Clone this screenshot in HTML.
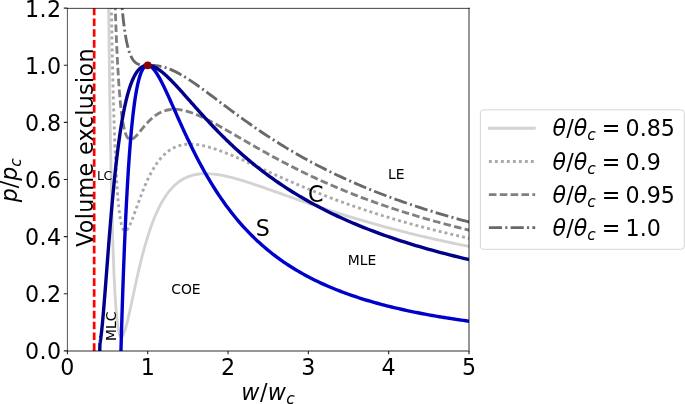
<!DOCTYPE html>
<html><head><meta charset="utf-8"><title>p-w phase diagram</title>
<style>
html,body{margin:0;padding:0;background:#fff;}
body{width:685px;height:404px;overflow:hidden;}
svg{display:block;font-family:"DejaVu Sans", "Liberation Sans", sans-serif;}
.tk{font-size:22.2px;fill:#000;}
.it{font-style:italic;}
.sm{font-size:13.9px;fill:#000;}
.lg{font-size:22.2px;fill:#000;}
</style></head><body>
<svg width="685" height="404" viewBox="0 0 685 404">
<rect width="685" height="404" fill="#fff"/>
<defs><clipPath id="ax"><rect x="67.4" y="8.17" width="401.60" height="342.73"/></clipPath></defs>
<g clip-path="url(#ax)" fill="none" stroke-linejoin="round">
<path d="M107.81,-77.51 L108.16,-39.74 L108.51,-5.18 L108.86,26.43 L109.21,55.37 L109.57,81.86 L109.92,106.11 L110.27,128.33 L110.62,148.66 L110.98,167.28 L111.33,184.32 L111.68,199.91 L112.03,214.16 L112.38,227.19 L112.74,239.08 L113.09,249.94 L113.44,259.83 L113.79,268.83 L114.14,277.01 L114.50,284.44 L114.85,291.16 L115.20,297.24 L115.55,302.71 L115.90,307.63 L116.26,312.04 L116.61,315.97 L116.96,319.47 L117.31,322.55 L117.66,325.25 L118.02,327.61 L118.37,329.64 L118.72,331.37 L119.07,332.82 L119.42,334.01 L119.78,334.96 L120.13,335.69 L120.48,336.22 L120.83,336.55 L121.18,336.71 L121.54,336.70 L121.89,336.55 L122.24,336.25 L122.59,335.83 L122.95,335.29 L123.30,334.64 L123.65,333.89 L124.00,333.04 L124.35,332.11 L124.71,331.10 L125.06,330.02 L125.41,328.88 L125.76,327.67 L126.11,326.41 L126.47,325.10 L126.82,323.75 L127.17,322.35 L127.52,320.92 L127.87,319.46 L128.23,317.96 L128.58,316.44 L128.93,314.90 L129.28,313.34 L129.63,311.75 L129.99,310.16 L130.34,308.55 L130.69,306.93 L131.04,305.30 L131.39,303.67 L131.75,302.03 L132.10,300.38 L132.45,298.74 L132.80,297.09 L133.15,295.45 L133.51,293.81 L133.86,292.17 L134.21,290.54 L134.56,288.91 L134.92,287.29 L135.27,285.67 L135.62,284.07 L135.97,282.47 L136.32,280.88 L136.68,279.30 L137.03,277.73 L137.38,276.18 L137.73,274.63 L138.08,273.10 L138.44,271.58 L138.79,270.07 L139.14,268.58 L139.49,267.09 L139.84,265.63 L140.20,264.17 L140.55,262.73 L140.90,261.31 L141.25,259.90 L141.60,258.50 L141.96,257.12 L142.31,255.75 L142.66,254.40 L143.01,253.07 L143.36,251.75 L143.72,250.44 L144.07,249.15 L144.42,247.87 L144.77,246.61 L145.12,245.37 L145.48,244.14 L145.83,242.92 L146.18,241.72 L146.53,240.54 L146.89,239.37 L147.24,238.22 L147.59,237.08 L147.94,235.95 L148.29,234.84 L148.65,233.75 L149.00,232.67 L149.35,231.60 L149.70,230.55 L150.05,229.51 L150.41,228.49 L150.76,227.48 L151.11,226.48 L151.46,225.50 L151.81,224.53 L152.17,223.58 L152.52,222.64 L152.87,221.71 L153.22,220.80 L153.57,219.90 L153.93,219.01 L154.28,218.14 L154.63,217.27 L154.98,216.42 L155.33,215.59 L155.69,214.76 L156.04,213.95 L156.39,213.15 L156.74,212.37 L157.09,211.59 L157.45,210.83 L157.80,210.07 L158.15,209.33 L158.50,208.60 L158.86,207.88 L159.21,207.18 L159.56,206.48 L159.91,205.80 L160.26,205.12 L160.62,204.46 L160.97,203.80 L161.32,203.16 L161.67,202.53 L162.02,201.91 L162.38,201.29 L162.73,200.69 L163.08,200.10 L163.43,199.52 L163.78,198.94 L166.38,194.99 L168.98,191.51 L171.58,188.45 L174.18,185.78 L176.78,183.47 L179.38,181.47 L181.97,179.76 L184.57,178.31 L187.17,177.11 L189.77,176.11 L192.37,175.32 L194.97,174.69 L197.57,174.23 L200.16,173.92 L202.76,173.73 L205.36,173.67 L207.96,173.71 L210.56,173.84 L213.16,174.07 L215.76,174.38 L218.35,174.75 L220.95,175.19 L223.55,175.69 L226.15,176.25 L228.75,176.85 L231.35,177.49 L233.95,178.17 L236.54,178.88 L239.14,179.63 L241.74,180.40 L244.34,181.19 L246.94,182.01 L249.54,182.84 L252.14,183.69 L254.73,184.56 L257.33,185.44 L259.93,186.33 L262.53,187.22 L265.13,188.13 L267.73,189.04 L270.33,189.95 L272.92,190.87 L275.52,191.79 L278.12,192.71 L280.72,193.64 L283.32,194.56 L285.92,195.48 L288.52,196.40 L291.11,197.32 L293.71,198.24 L296.31,199.15 L298.91,200.06 L301.51,200.97 L304.11,201.87 L306.71,202.77 L309.30,203.66 L311.90,204.55 L314.50,205.43 L317.10,206.31 L319.70,207.18 L322.30,208.04 L324.90,208.90 L327.50,209.75 L330.09,210.60 L332.69,211.44 L335.29,212.27 L337.89,213.10 L340.49,213.92 L343.09,214.73 L345.69,215.54 L348.28,216.34 L350.88,217.13 L353.48,217.92 L356.08,218.69 L358.68,219.47 L361.28,220.23 L363.88,220.99 L366.47,221.74 L369.07,222.49 L371.67,223.23 L374.27,223.96 L376.87,224.68 L379.47,225.40 L382.07,226.11 L384.66,226.82 L387.26,227.52 L389.86,228.21 L392.46,228.89 L395.06,229.57 L397.66,230.24 L400.26,230.91 L402.85,231.57 L405.45,232.23 L408.05,232.87 L410.65,233.51 L413.25,234.15 L415.85,234.78 L418.45,235.40 L421.04,236.02 L423.64,236.63 L426.24,237.24 L428.84,237.84 L431.44,238.44 L434.04,239.03 L436.64,239.61 L439.23,240.19 L441.83,240.76 L444.43,241.33 L447.03,241.89 L449.63,242.45 L452.23,243.00 L454.83,243.55 L457.42,244.09 L460.02,244.63 L462.62,245.16 L465.22,245.69 L467.82,246.21 L470.42,246.73 L473.02,247.24" stroke="#d3d3d3" stroke-width="2.85"  stroke-dashoffset="0" stroke-linecap="square"/>
<path d="M110.06,-77.51 L110.39,-52.87 L110.73,-30.07 L111.07,-8.96 L111.41,10.58 L111.75,28.68 L112.08,45.43 L112.42,60.95 L112.76,75.32 L113.10,88.63 L113.44,100.94 L113.77,112.35 L114.11,122.90 L114.45,132.66 L114.79,141.68 L115.13,150.02 L115.46,157.72 L115.80,164.83 L116.14,171.39 L116.48,177.43 L116.82,182.99 L117.15,188.10 L117.49,192.79 L117.83,197.10 L118.17,201.03 L118.50,204.63 L118.84,207.91 L119.18,210.90 L119.52,213.60 L119.86,216.05 L120.19,218.26 L120.53,220.24 L120.87,222.00 L121.21,223.57 L121.55,224.96 L121.88,226.17 L122.22,227.22 L122.56,228.12 L122.90,228.88 L123.24,229.51 L123.57,230.02 L123.91,230.41 L124.25,230.70 L124.59,230.88 L124.92,230.98 L125.26,230.98 L125.60,230.91 L125.94,230.76 L126.28,230.54 L126.61,230.25 L126.95,229.91 L127.29,229.51 L127.63,229.06 L127.97,228.56 L128.30,228.01 L128.64,227.43 L128.98,226.80 L129.32,226.15 L129.66,225.46 L129.99,224.74 L130.33,223.99 L130.67,223.22 L131.01,222.42 L131.35,221.61 L131.68,220.78 L132.02,219.93 L132.36,219.07 L132.70,218.19 L133.03,217.30 L133.37,216.41 L133.71,215.50 L134.05,214.58 L134.39,213.66 L134.72,212.74 L135.06,211.81 L135.40,210.87 L135.74,209.94 L136.08,209.00 L136.41,208.06 L136.75,207.12 L137.09,206.19 L137.43,205.25 L137.77,204.32 L138.10,203.39 L138.44,202.46 L138.78,201.54 L139.12,200.62 L139.45,199.70 L139.79,198.79 L140.13,197.89 L140.47,196.99 L140.81,196.10 L141.14,195.21 L141.48,194.33 L141.82,193.46 L142.16,192.59 L142.50,191.74 L142.83,190.89 L143.17,190.04 L143.51,189.21 L143.85,188.38 L144.19,187.57 L144.52,186.76 L144.86,185.96 L145.20,185.16 L145.54,184.38 L145.88,183.61 L146.21,182.84 L146.55,182.08 L146.89,181.34 L147.23,180.60 L147.56,179.87 L147.90,179.15 L148.24,178.44 L148.58,177.73 L148.92,177.04 L149.25,176.36 L149.59,175.68 L149.93,175.02 L150.27,174.36 L150.61,173.71 L150.94,173.07 L151.28,172.44 L151.62,171.82 L151.96,171.21 L152.30,170.61 L152.63,170.01 L152.97,169.43 L153.31,168.85 L153.65,168.28 L153.98,167.73 L154.32,167.18 L154.66,166.63 L155.00,166.10 L155.34,165.58 L155.67,165.06 L156.01,164.55 L156.35,164.05 L156.69,163.56 L157.03,163.08 L157.36,162.60 L157.70,162.13 L158.04,161.67 L158.38,161.22 L158.72,160.78 L159.05,160.34 L159.39,159.91 L159.73,159.49 L160.07,159.08 L160.40,158.67 L160.74,158.27 L161.08,157.88 L161.42,157.50 L161.76,157.12 L162.09,156.75 L162.43,156.39 L162.77,156.03 L163.11,155.68 L163.45,155.34 L163.78,155.00 L166.38,152.63 L168.98,150.62 L171.58,148.94 L174.18,147.55 L176.78,146.44 L179.38,145.57 L181.97,144.92 L184.57,144.48 L187.17,144.22 L189.77,144.12 L192.37,144.17 L194.97,144.35 L197.57,144.65 L200.16,145.06 L202.76,145.56 L205.36,146.16 L207.96,146.83 L210.56,147.56 L213.16,148.36 L215.76,149.22 L218.35,150.12 L220.95,151.07 L223.55,152.05 L226.15,153.07 L228.75,154.12 L231.35,155.19 L233.95,156.29 L236.54,157.40 L239.14,158.53 L241.74,159.67 L244.34,160.82 L246.94,161.99 L249.54,163.16 L252.14,164.33 L254.73,165.51 L257.33,166.69 L259.93,167.87 L262.53,169.05 L265.13,170.23 L267.73,171.41 L270.33,172.59 L272.92,173.76 L275.52,174.92 L278.12,176.08 L280.72,177.24 L283.32,178.39 L285.92,179.53 L288.52,180.66 L291.11,181.79 L293.71,182.91 L296.31,184.02 L298.91,185.12 L301.51,186.22 L304.11,187.30 L306.71,188.38 L309.30,189.44 L311.90,190.50 L314.50,191.55 L317.10,192.59 L319.70,193.61 L322.30,194.63 L324.90,195.64 L327.50,196.64 L330.09,197.63 L332.69,198.61 L335.29,199.59 L337.89,200.55 L340.49,201.50 L343.09,202.44 L345.69,203.38 L348.28,204.30 L350.88,205.21 L353.48,206.12 L356.08,207.02 L358.68,207.90 L361.28,208.78 L363.88,209.65 L366.47,210.51 L369.07,211.36 L371.67,212.20 L374.27,213.04 L376.87,213.86 L379.47,214.68 L382.07,215.49 L384.66,216.29 L387.26,217.08 L389.86,217.86 L392.46,218.64 L395.06,219.41 L397.66,220.17 L400.26,220.92 L402.85,221.66 L405.45,222.40 L408.05,223.13 L410.65,223.85 L413.25,224.56 L415.85,225.27 L418.45,225.97 L421.04,226.66 L423.64,227.35 L426.24,228.03 L428.84,228.70 L431.44,229.37 L434.04,230.03 L436.64,230.68 L439.23,231.32 L441.83,231.96 L444.43,232.60 L447.03,233.22 L449.63,233.85 L452.23,234.46 L454.83,235.07 L457.42,235.67 L460.02,236.27 L462.62,236.86 L465.22,237.45 L467.82,238.03 L470.42,238.60 L473.02,239.17" stroke="#a9a9a9" stroke-width="2.85" stroke-dasharray="2.9 3.1" stroke-dashoffset="0" />
<path d="M113.00,-77.51 L113.32,-62.88 L113.64,-49.17 L113.96,-36.33 L114.28,-24.30 L114.60,-13.02 L114.92,-2.46 L115.24,7.43 L115.56,16.71 L115.88,25.40 L116.20,33.54 L116.52,41.17 L116.83,48.32 L117.15,55.01 L117.47,61.28 L117.79,67.15 L118.11,72.65 L118.43,77.79 L118.75,82.60 L119.07,87.10 L119.39,91.31 L119.71,95.23 L120.03,98.90 L120.35,102.33 L120.67,105.52 L120.99,108.49 L121.31,111.26 L121.63,113.84 L121.94,116.23 L122.26,118.46 L122.58,120.52 L122.90,122.43 L123.22,124.20 L123.54,125.83 L123.86,127.33 L124.18,128.72 L124.50,129.99 L124.82,131.15 L125.14,132.21 L125.46,133.18 L125.78,134.06 L126.10,134.85 L126.42,135.56 L126.74,136.20 L127.05,136.77 L127.37,137.28 L127.69,137.72 L128.01,138.10 L128.33,138.42 L128.65,138.70 L128.97,138.92 L129.29,139.10 L129.61,139.24 L129.93,139.33 L130.25,139.39 L130.57,139.41 L130.89,139.40 L131.21,139.35 L131.53,139.28 L131.85,139.18 L132.16,139.06 L132.48,138.91 L132.80,138.73 L133.12,138.54 L133.44,138.33 L133.76,138.10 L134.08,137.85 L134.40,137.59 L134.72,137.31 L135.04,137.02 L135.36,136.72 L135.68,136.41 L136.00,136.09 L136.32,135.75 L136.64,135.41 L136.96,135.06 L137.28,134.71 L137.59,134.35 L137.91,133.98 L138.23,133.61 L138.55,133.23 L138.87,132.85 L139.19,132.47 L139.51,132.09 L139.83,131.70 L140.15,131.31 L140.47,130.92 L140.79,130.53 L141.11,130.14 L141.43,129.75 L141.75,129.35 L142.07,128.96 L142.39,128.57 L142.70,128.19 L143.02,127.80 L143.34,127.41 L143.66,127.03 L143.98,126.65 L144.30,126.27 L144.62,125.89 L144.94,125.52 L145.26,125.15 L145.58,124.78 L145.90,124.42 L146.22,124.06 L146.54,123.70 L146.86,123.35 L147.18,123.00 L147.50,122.65 L147.81,122.31 L148.13,121.97 L148.45,121.64 L148.77,121.31 L149.09,120.99 L149.41,120.67 L149.73,120.35 L150.05,120.04 L150.37,119.73 L150.69,119.43 L151.01,119.13 L151.33,118.84 L151.65,118.55 L151.97,118.27 L152.29,117.99 L152.61,117.72 L152.92,117.45 L153.24,117.18 L153.56,116.92 L153.88,116.67 L154.20,116.42 L154.52,116.17 L154.84,115.93 L155.16,115.69 L155.48,115.46 L155.80,115.24 L156.12,115.02 L156.44,114.80 L156.76,114.59 L157.08,114.38 L157.40,114.18 L157.72,113.98 L158.04,113.78 L158.35,113.60 L158.67,113.41 L158.99,113.23 L159.31,113.06 L159.63,112.89 L159.95,112.72 L160.27,112.56 L160.59,112.40 L160.91,112.25 L161.23,112.10 L161.55,111.95 L161.87,111.81 L162.19,111.68 L162.51,111.55 L162.83,111.42 L163.15,111.30 L163.46,111.18 L163.78,111.06 L166.38,110.27 L168.98,109.73 L171.58,109.42 L174.18,109.32 L176.78,109.41 L179.38,109.67 L181.97,110.09 L184.57,110.64 L187.17,111.33 L189.77,112.12 L192.37,113.02 L194.97,114.00 L197.57,115.07 L200.16,116.20 L202.76,117.40 L205.36,118.65 L207.96,119.94 L210.56,121.28 L213.16,122.66 L215.76,124.06 L218.35,125.49 L220.95,126.94 L223.55,128.41 L226.15,129.90 L228.75,131.39 L231.35,132.89 L233.95,134.40 L236.54,135.92 L239.14,137.43 L241.74,138.94 L244.34,140.46 L246.94,141.97 L249.54,143.47 L252.14,144.97 L254.73,146.46 L257.33,147.94 L259.93,149.42 L262.53,150.89 L265.13,152.34 L267.73,153.79 L270.33,155.22 L272.92,156.65 L275.52,158.06 L278.12,159.46 L280.72,160.84 L283.32,162.22 L285.92,163.58 L288.52,164.92 L291.11,166.26 L293.71,167.58 L296.31,168.89 L298.91,170.18 L301.51,171.46 L304.11,172.73 L306.71,173.98 L309.30,175.22 L311.90,176.45 L314.50,177.66 L317.10,178.86 L319.70,180.05 L322.30,181.23 L324.90,182.39 L327.50,183.53 L330.09,184.67 L332.69,185.79 L335.29,186.90 L337.89,188.00 L340.49,189.08 L343.09,190.15 L345.69,191.22 L348.28,192.26 L350.88,193.30 L353.48,194.32 L356.08,195.34 L358.68,196.34 L361.28,197.33 L363.88,198.31 L366.47,199.28 L369.07,200.23 L371.67,201.18 L374.27,202.12 L376.87,203.04 L379.47,203.96 L382.07,204.86 L384.66,205.76 L387.26,206.64 L389.86,207.52 L392.46,208.38 L395.06,209.24 L397.66,210.09 L400.26,210.92 L402.85,211.75 L405.45,212.57 L408.05,213.38 L410.65,214.19 L413.25,214.98 L415.85,215.76 L418.45,216.54 L421.04,217.31 L423.64,218.07 L426.24,218.82 L428.84,219.56 L431.44,220.30 L434.04,221.03 L436.64,221.75 L439.23,222.46 L441.83,223.17 L444.43,223.87 L447.03,224.56 L449.63,225.24 L452.23,225.92 L454.83,226.59 L457.42,227.25 L460.02,227.91 L462.62,228.56 L465.22,229.20 L467.82,229.84 L470.42,230.47 L473.02,231.10" stroke="#808080" stroke-width="2.85" stroke-dasharray="7.58 3.28" stroke-dashoffset="6.6" />
<path d="M117.18,-77.51 L117.47,-70.10 L117.76,-63.06 L118.06,-56.38 L118.35,-50.03 L118.64,-44.01 L118.93,-38.30 L119.23,-32.87 L119.52,-27.71 L119.81,-22.82 L120.11,-18.17 L120.40,-13.76 L120.69,-9.56 L120.99,-5.58 L121.28,-1.80 L121.57,1.80 L121.87,5.21 L122.16,8.45 L122.45,11.53 L122.75,14.46 L123.04,17.23 L123.33,19.87 L123.62,22.38 L123.92,24.76 L124.21,27.01 L124.50,29.16 L124.80,31.19 L125.09,33.13 L125.38,34.96 L125.68,36.70 L125.97,38.35 L126.26,39.92 L126.56,41.40 L126.85,42.81 L127.14,44.14 L127.44,45.41 L127.73,46.61 L128.02,47.74 L128.31,48.82 L128.61,49.84 L128.90,50.80 L129.19,51.71 L129.49,52.58 L129.78,53.39 L130.07,54.16 L130.37,54.89 L130.66,55.58 L130.95,56.23 L131.25,56.84 L131.54,57.42 L131.83,57.97 L132.13,58.48 L132.42,58.96 L132.71,59.42 L133.01,59.85 L133.30,60.25 L133.59,60.63 L133.88,60.98 L134.18,61.32 L134.47,61.63 L134.76,61.92 L135.06,62.19 L135.35,62.45 L135.64,62.69 L135.94,62.91 L136.23,63.12 L136.52,63.31 L136.82,63.49 L137.11,63.66 L137.40,63.81 L137.70,63.95 L137.99,64.09 L138.28,64.21 L138.57,64.32 L138.87,64.42 L139.16,64.52 L139.45,64.61 L139.75,64.68 L140.04,64.76 L140.33,64.82 L140.63,64.88 L140.92,64.94 L141.21,64.98 L141.51,65.03 L141.80,65.07 L142.09,65.10 L142.39,65.13 L142.68,65.16 L142.97,65.18 L143.26,65.20 L143.56,65.22 L143.85,65.23 L144.14,65.25 L144.44,65.26 L144.73,65.27 L145.02,65.27 L145.32,65.28 L145.61,65.28 L145.90,65.29 L146.20,65.29 L146.49,65.29 L146.78,65.29 L147.08,65.29 L147.37,65.29 L147.66,65.29 L147.95,65.29 L148.25,65.29 L148.54,65.29 L148.83,65.29 L149.13,65.29 L149.42,65.30 L149.71,65.30 L150.01,65.30 L150.30,65.30 L150.59,65.31 L150.89,65.31 L151.18,65.32 L151.47,65.33 L151.77,65.34 L152.06,65.35 L152.35,65.36 L152.64,65.37 L152.94,65.39 L153.23,65.40 L153.52,65.42 L153.82,65.44 L154.11,65.46 L154.40,65.48 L154.70,65.50 L154.99,65.53 L155.28,65.55 L155.58,65.58 L155.87,65.61 L156.16,65.64 L156.46,65.68 L156.75,65.71 L157.04,65.75 L157.34,65.79 L157.63,65.83 L157.92,65.87 L158.21,65.92 L158.51,65.96 L158.80,66.01 L159.09,66.06 L159.39,66.11 L159.68,66.17 L159.97,66.22 L160.27,66.28 L160.56,66.34 L160.85,66.40 L161.15,66.47 L161.44,66.53 L161.73,66.60 L162.03,66.67 L162.32,66.74 L162.61,66.81 L162.90,66.89 L163.20,66.96 L163.49,67.04 L163.78,67.12 L166.38,67.92 L168.98,68.85 L171.58,69.91 L174.18,71.09 L176.78,72.38 L179.38,73.77 L181.97,75.25 L184.57,76.81 L187.17,78.44 L189.77,80.13 L192.37,81.87 L194.97,83.66 L197.57,85.48 L200.16,87.34 L202.76,89.23 L205.36,91.14 L207.96,93.06 L210.56,95.00 L213.16,96.95 L215.76,98.90 L218.35,100.86 L220.95,102.82 L223.55,104.77 L226.15,106.72 L228.75,108.66 L231.35,110.60 L233.95,112.52 L236.54,114.43 L239.14,116.33 L241.74,118.22 L244.34,120.09 L246.94,121.94 L249.54,123.78 L252.14,125.61 L254.73,127.41 L257.33,129.20 L259.93,130.97 L262.53,132.72 L265.13,134.45 L267.73,136.16 L270.33,137.86 L272.92,139.53 L275.52,141.19 L278.12,142.83 L280.72,144.45 L283.32,146.05 L285.92,147.63 L288.52,149.19 L291.11,150.73 L293.71,152.25 L296.31,153.76 L298.91,155.24 L301.51,156.71 L304.11,158.16 L306.71,159.59 L309.30,161.01 L311.90,162.40 L314.50,163.78 L317.10,165.14 L319.70,166.49 L322.30,167.82 L324.90,169.13 L327.50,170.42 L330.09,171.70 L332.69,172.97 L335.29,174.22 L337.89,175.45 L340.49,176.66 L343.09,177.87 L345.69,179.05 L348.28,180.23 L350.88,181.39 L353.48,182.53 L356.08,183.66 L358.68,184.78 L361.28,185.88 L363.88,186.97 L366.47,188.04 L369.07,189.11 L371.67,190.16 L374.27,191.20 L376.87,192.22 L379.47,193.24 L382.07,194.24 L384.66,195.23 L387.26,196.21 L389.86,197.17 L392.46,198.13 L395.06,199.08 L397.66,200.01 L400.26,200.93 L402.85,201.84 L405.45,202.75 L408.05,203.64 L410.65,204.52 L413.25,205.39 L415.85,206.25 L418.45,207.11 L421.04,207.95 L423.64,208.78 L426.24,209.61 L428.84,210.42 L431.44,211.23 L434.04,212.03 L436.64,212.82 L439.23,213.60 L441.83,214.37 L444.43,215.13 L447.03,215.89 L449.63,216.64 L452.23,217.38 L454.83,218.11 L457.42,218.83 L460.02,219.55 L462.62,220.26 L465.22,220.96 L467.82,221.65 L470.42,222.34 L473.02,223.02" stroke="#696969" stroke-width="2.85" stroke-dasharray="13.12 3.28 2.05 3.28" stroke-dashoffset="-4.1" />
<path d="M94.17,350.9 V6.17" stroke="#ff0000" stroke-width="2.7" stroke-dasharray="7.56 3.27" stroke-dashoffset="0"/>
<path d="M118.80,438.06 L119.24,418.65 L119.67,400.16 L120.11,382.55 L120.54,365.78 L120.98,349.81 L121.41,334.60 L121.85,320.10 L122.28,306.30 L122.71,293.16 L123.15,280.64 L123.58,268.71 L124.02,257.36 L124.45,246.55 L124.89,236.26 L125.32,226.46 L125.76,217.13 L126.19,208.26 L126.62,199.81 L127.06,191.78 L127.49,184.14 L127.93,176.88 L128.36,169.97 L128.80,163.41 L129.23,157.17 L129.67,151.25 L130.10,145.63 L130.53,140.30 L130.97,135.24 L131.40,130.44 L131.84,125.90 L132.27,121.59 L132.71,117.51 L133.14,113.66 L133.58,110.01 L134.01,106.57 L134.44,103.32 L134.88,100.26 L135.31,97.37 L135.75,94.65 L136.18,92.10 L136.62,89.70 L137.05,87.45 L137.49,85.34 L137.92,83.37 L138.35,81.53 L138.79,79.82 L139.22,78.23 L139.66,76.75 L140.09,75.39 L140.53,74.13 L140.96,72.97 L141.40,71.91 L141.83,70.94 L142.26,70.06 L142.70,69.27 L143.13,68.56 L143.57,67.93 L144.00,67.38 L144.44,66.89 L144.87,66.48 L145.31,66.13 L145.74,65.85 L146.17,65.63 L146.61,65.46 L147.04,65.35 L147.48,65.30 L147.91,65.30 L148.35,65.34 L148.78,65.44 L149.22,65.57 L149.65,65.76 L150.08,65.98 L150.52,66.24 L150.95,66.54 L151.39,66.88 L151.82,67.25 L152.26,67.65 L152.69,68.09 L153.13,68.55 L153.56,69.05 L153.99,69.57 L154.43,70.12 L154.86,70.70 L155.30,71.29 L155.73,71.91 L156.17,72.56 L156.60,73.22 L157.04,73.90 L157.47,74.61 L157.90,75.33 L158.34,76.06 L158.77,76.82 L159.21,77.59 L159.64,78.37 L160.08,79.17 L160.51,79.98 L160.95,80.80 L161.38,81.64 L161.81,82.48 L162.25,83.34 L162.68,84.21 L163.12,85.09 L163.55,85.97 L163.99,86.86 L164.42,87.77 L164.85,88.67 L165.29,89.59 L165.72,90.51 L166.16,91.44 L166.59,92.37 L167.03,93.31 L167.46,94.26 L167.90,95.20 L168.33,96.16 L168.76,97.11 L169.20,98.07 L169.63,99.03 L170.07,100.00 L170.50,100.97 L170.94,101.93 L171.37,102.91 L171.81,103.88 L172.24,104.85 L172.67,105.83 L173.11,106.80 L173.54,107.78 L173.98,108.76 L174.41,109.74 L174.85,110.71 L175.28,111.69 L175.72,112.67 L176.15,113.64 L176.58,114.62 L177.02,115.60 L177.45,116.57 L177.89,117.54 L178.32,118.51 L178.76,119.48 L179.19,120.45 L179.63,121.42 L180.06,122.38 L180.49,123.35 L180.93,124.31 L181.36,125.27 L181.80,126.23 L182.23,127.18 L182.67,128.13 L183.10,129.08 L183.54,130.03 L183.97,130.97 L184.40,131.91 L184.84,132.85 L185.27,133.79 L185.71,134.72 L186.14,135.65 L186.58,136.58 L187.01,137.50 L187.45,138.42 L187.88,139.34 L190.28,144.34 L192.67,149.23 L195.07,154.00 L197.46,158.67 L199.86,163.21 L202.26,167.64 L204.65,171.95 L207.05,176.14 L209.44,180.21 L211.84,184.17 L214.24,188.02 L216.63,191.75 L219.03,195.38 L221.43,198.90 L223.82,202.32 L226.22,205.64 L228.61,208.86 L231.01,211.98 L233.41,215.02 L235.80,217.96 L238.20,220.82 L240.59,223.60 L242.99,226.29 L245.39,228.91 L247.78,231.45 L250.18,233.91 L252.57,236.31 L254.97,238.64 L257.37,240.90 L259.76,243.10 L262.16,245.24 L264.56,247.32 L266.95,249.34 L269.35,251.30 L271.74,253.21 L274.14,255.07 L276.54,256.88 L278.93,258.64 L281.33,260.35 L283.72,262.02 L286.12,263.64 L288.52,265.22 L290.91,266.76 L293.31,268.26 L295.70,269.72 L298.10,271.15 L300.50,272.54 L302.89,273.89 L305.29,275.21 L307.69,276.50 L310.08,277.75 L312.48,278.98 L314.87,280.17 L317.27,281.34 L319.67,282.48 L322.06,283.59 L324.46,284.67 L326.85,285.73 L329.25,286.77 L331.65,287.78 L334.04,288.77 L336.44,289.73 L338.83,290.67 L341.23,291.60 L343.63,292.50 L346.02,293.38 L348.42,294.24 L350.81,295.09 L353.21,295.91 L355.61,296.72 L358.00,297.51 L360.40,298.28 L362.80,299.04 L365.19,299.78 L367.59,300.50 L369.98,301.21 L372.38,301.91 L374.78,302.59 L377.17,303.25 L379.57,303.91 L381.96,304.55 L384.36,305.17 L386.76,305.79 L389.15,306.39 L391.55,306.98 L393.94,307.56 L396.34,308.13 L398.74,308.69 L401.13,309.23 L403.53,309.77 L405.93,310.30 L408.32,310.81 L410.72,311.32 L413.11,311.81 L415.51,312.30 L417.91,312.78 L420.30,313.25 L422.70,313.71 L425.09,314.16 L427.49,314.61 L429.89,315.05 L432.28,315.47 L434.68,315.90 L437.07,316.31 L439.47,316.72 L441.87,317.12 L444.26,317.51 L446.66,317.90 L449.05,318.28 L451.45,318.65 L453.85,319.02 L456.24,319.38 L458.64,319.73 L461.04,320.08 L463.43,320.42 L465.83,320.76 L468.22,321.09 L470.62,321.42 L473.02,321.74" stroke="#0000cd" stroke-width="3.4"/>
<path d="M99.68,353.76 L99.93,343.79 L99.98,343.49 L100.03,343.18 L100.09,342.86 L100.14,342.54 L100.20,342.20 L100.25,341.86 L100.31,341.51 L100.36,341.15 L100.42,340.78 L100.47,340.41 L100.53,340.02 L100.58,339.63 L100.64,339.22 L100.70,338.81 L100.75,338.39 L100.81,337.96 L100.87,337.52 L100.93,337.08 L100.98,336.62 L101.04,336.16 L101.10,335.68 L101.16,335.20 L101.22,334.71 L101.28,334.21 L101.34,333.70 L101.40,333.18 L101.46,332.65 L101.52,332.11 L101.58,331.57 L101.64,331.01 L101.70,330.45 L101.76,329.87 L101.82,329.29 L101.88,328.70 L101.94,328.10 L102.01,327.49 L102.07,326.87 L102.13,326.24 L102.19,325.61 L102.26,324.96 L102.32,324.31 L102.39,323.65 L102.45,322.97 L102.51,322.29 L102.58,321.60 L102.64,320.91 L102.71,320.20 L102.77,319.48 L102.84,318.76 L102.91,318.03 L102.97,317.29 L103.04,316.54 L103.11,315.78 L103.17,315.01 L103.24,314.24 L103.31,313.45 L103.38,312.66 L103.45,311.86 L103.51,311.05 L103.58,310.24 L103.65,309.41 L103.72,308.58 L103.79,307.74 L103.86,306.89 L103.93,306.04 L104.00,305.17 L104.07,304.30 L104.15,303.42 L104.22,302.53 L104.29,301.64 L104.36,300.74 L104.44,299.83 L104.51,298.91 L104.58,297.99 L104.66,297.06 L104.73,296.12 L104.80,295.18 L104.88,294.22 L104.95,293.26 L105.03,292.30 L105.11,291.33 L105.18,290.35 L105.26,289.36 L105.34,288.37 L105.41,287.37 L105.49,286.37 L105.57,285.35 L105.65,284.34 L105.73,283.31 L105.81,282.28 L105.88,281.25 L105.96,280.21 L106.04,279.16 L106.13,278.11 L106.21,277.05 L106.29,275.99 L106.37,274.92 L106.45,273.84 L106.53,272.76 L106.62,271.68 L106.70,270.59 L106.78,269.49 L106.87,268.39 L106.95,267.29 L107.04,266.18 L107.12,265.07 L107.21,263.95 L107.29,262.83 L107.38,261.70 L107.47,260.57 L107.55,259.43 L107.64,258.29 L107.73,257.15 L107.82,256.00 L107.91,254.85 L108.00,253.70 L108.09,252.54 L108.18,251.38 L108.27,250.21 L108.36,249.04 L108.45,247.87 L108.54,246.70 L108.63,245.52 L108.73,244.34 L108.82,243.16 L108.91,241.97 L109.01,240.78 L109.10,239.59 L109.20,238.40 L109.29,237.20 L109.39,236.00 L109.49,234.80 L109.58,233.60 L109.68,232.39 L109.78,231.19 L109.88,229.98 L109.98,228.77 L110.08,227.56 L110.18,226.35 L110.28,225.13 L110.38,223.92 L110.48,222.70 L110.58,221.48 L110.68,220.26 L110.79,219.05 L110.89,217.82 L110.99,216.60 L111.10,215.38 L111.20,214.16 L111.31,212.94 L111.41,211.72 L111.52,210.49 L111.63,209.27 L111.74,208.05 L111.84,206.82 L111.95,205.60 L112.06,204.38 L112.17,203.16 L112.28,201.93 L112.40,200.71 L112.51,199.49 L112.62,198.27 L112.73,197.05 L112.85,195.84 L112.96,194.62 L113.07,193.40 L113.19,192.19 L113.30,190.97 L113.42,189.76 L113.54,188.55 L113.66,187.34 L113.77,186.13 L113.89,184.93 L114.01,183.72 L114.13,182.52 L114.25,181.32 L114.38,180.12 L114.50,178.93 L114.62,177.74 L114.74,176.54 L114.87,175.36 L114.99,174.17 L115.12,172.99 L115.24,171.81 L115.37,170.63 L115.50,169.45 L115.63,168.28 L115.75,167.11 L115.88,165.95 L116.01,164.78 L116.14,163.62 L116.28,162.47 L116.41,161.32 L116.54,160.17 L116.68,159.02 L116.81,157.88 L116.94,156.74 L117.08,155.61 L117.22,154.48 L117.36,153.36 L117.49,152.23 L117.63,151.12 L117.77,150.00 L117.91,148.89 L118.05,147.79 L118.20,146.69 L118.34,145.60 L118.48,144.51 L118.63,143.42 L118.77,142.34 L118.92,141.26 L119.07,140.19 L119.21,139.13 L119.36,138.07 L119.51,137.01 L119.66,135.96 L119.81,134.92 L119.96,133.88 L120.12,132.85 L120.27,131.82 L120.43,130.79 L120.58,129.78 L120.74,128.77 L120.90,127.76 L121.05,126.76 L121.21,125.77 L121.37,124.78 L121.53,123.80 L121.70,122.83 L121.86,121.86 L122.02,120.90 L122.19,119.94 L122.35,118.99 L122.52,118.05 L122.69,117.12 L122.86,116.19 L123.03,115.26 L123.20,114.35 L123.37,113.44 L123.54,112.54 L123.72,111.64 L123.89,110.75 L124.07,109.87 L124.24,109.00 L124.42,108.13 L124.60,107.27 L124.78,106.42 L124.96,105.58 L125.14,104.74 L125.33,103.91 L125.51,103.09 L125.70,102.28 L125.89,101.47 L126.07,100.67 L126.26,99.88 L126.45,99.10 L126.64,98.32 L126.84,97.55 L127.03,96.79 L127.23,96.04 L127.42,95.30 L127.62,94.56 L127.82,93.84 L128.02,93.12 L128.22,92.41 L128.42,91.70 L128.63,91.01 L128.83,90.33 L129.04,89.65 L129.25,88.98 L129.46,88.32 L129.67,87.67 L129.88,87.03 L130.09,86.39 L130.31,85.77 L130.52,85.15 L130.74,84.54 L130.96,83.94 L131.18,83.35 L131.40,82.77 L131.62,82.20 L131.85,81.64 L132.07,81.08 L132.30,80.54 L132.53,80.00 L132.76,79.47 L132.99,78.96 L133.23,78.45 L133.46,77.95 L133.70,77.46 L133.94,76.98 L134.18,76.51 L134.42,76.04 L134.66,75.59 L134.91,75.15 L135.15,74.71 L135.40,74.29 L135.65,73.87 L135.90,73.47 L136.16,73.07 L136.41,72.69 L136.67,72.31 L136.93,71.94 L137.19,71.59 L137.45,71.24 L137.71,70.90 L137.98,70.57 L138.24,70.25 L138.51,69.94 L138.79,69.65 L139.06,69.36 L139.33,69.08 L139.61,68.81 L139.89,68.55 L140.17,68.30 L140.45,68.06 L140.74,67.83 L141.03,67.61 L141.31,67.40 L141.61,67.20 L141.90,67.01 L142.19,66.83 L142.49,66.66 L142.79,66.50 L143.09,66.35 L143.40,66.20 L147.72,65.29 L152.51,66.20 L152.88,66.35 L153.26,66.50 L153.64,66.66 L154.03,66.83 L154.41,67.01 L154.80,67.20 L155.20,67.40 L155.60,67.61 L156.00,67.83 L156.40,68.06 L156.81,68.30 L157.22,68.55 L157.63,68.81 L158.05,69.08 L158.47,69.36 L158.89,69.65 L159.32,69.94 L159.75,70.25 L160.18,70.57 L160.62,70.90 L161.06,71.24 L161.51,71.59 L161.96,71.94 L162.41,72.31 L162.87,72.69 L163.33,73.07 L163.79,73.47 L164.26,73.87 L164.73,74.29 L165.21,74.71 L165.69,75.15 L166.17,75.59 L166.66,76.04 L167.16,76.51 L167.65,76.98 L168.16,77.46 L168.66,77.95 L169.17,78.45 L169.69,78.96 L170.21,79.47 L170.73,80.00 L171.26,80.54 L171.79,81.08 L172.33,81.64 L172.88,82.20 L173.43,82.77 L173.98,83.35 L174.54,83.94 L175.10,84.54 L175.67,85.15 L176.24,85.77 L176.82,86.39 L177.41,87.03 L178.00,87.67 L178.59,88.32 L179.19,88.98 L179.80,89.65 L180.41,90.33 L181.03,91.01 L181.65,91.70 L182.28,92.41 L182.92,93.12 L183.56,93.84 L184.21,94.56 L184.86,95.30 L185.52,96.04 L186.19,96.79 L186.87,97.55 L187.55,98.32 L188.23,99.10 L188.93,99.88 L189.63,100.67 L190.33,101.47 L191.05,102.28 L191.77,103.09 L192.50,103.91 L193.23,104.74 L193.98,105.58 L194.73,106.42 L195.49,107.27 L196.25,108.13 L197.03,109.00 L197.81,109.87 L198.60,110.75 L199.40,111.64 L200.20,112.54 L201.02,113.44 L201.84,114.35 L202.68,115.26 L203.52,116.19 L204.37,117.12 L205.23,118.05 L206.09,118.99 L206.97,119.94 L207.86,120.90 L208.75,121.86 L209.66,122.83 L210.58,123.80 L211.50,124.78 L212.44,125.77 L213.38,126.76 L214.34,127.76 L215.31,128.77 L216.29,129.78 L217.28,130.79 L218.28,131.82 L219.29,132.85 L220.31,133.88 L221.34,134.92 L222.39,135.96 L223.45,137.01 L224.52,138.07 L225.60,139.13 L226.70,140.19 L227.80,141.26 L228.93,142.34 L230.06,143.42 L231.21,144.51 L232.37,145.60 L233.54,146.69 L234.73,147.79 L235.93,148.89 L237.15,150.00 L238.38,151.12 L239.63,152.23 L240.89,153.36 L242.17,154.48 L243.46,155.61 L244.77,156.74 L246.10,157.88 L247.44,159.02 L248.80,160.17 L250.17,161.32 L251.57,162.47 L252.98,163.62 L254.41,164.78 L255.85,165.95 L257.32,167.11 L258.80,168.28 L260.31,169.45 L261.83,170.63 L263.37,171.81 L264.93,172.99 L266.52,174.17 L268.12,175.36 L269.75,176.54 L271.40,177.74 L273.07,178.93 L274.76,180.12 L276.47,181.32 L278.21,182.52 L279.98,183.72 L281.76,184.93 L283.57,186.13 L285.41,187.34 L287.27,188.55 L289.16,189.76 L291.07,190.97 L293.02,192.19 L294.99,193.40 L296.98,194.62 L299.01,195.84 L301.06,197.05 L303.15,198.27 L305.27,199.49 L307.41,200.71 L309.59,201.93 L311.80,203.16 L314.04,204.38 L316.32,205.60 L318.63,206.82 L320.98,208.05 L323.36,209.27 L325.78,210.49 L328.23,211.72 L330.72,212.94 L333.26,214.16 L335.83,215.38 L338.44,216.60 L341.09,217.82 L343.78,219.05 L346.52,220.26 L349.30,221.48 L352.12,222.70 L355.00,223.92 L357.91,225.13 L360.88,226.35 L363.89,227.56 L366.96,228.77 L370.07,229.98 L373.24,231.19 L376.46,232.39 L379.73,233.60 L383.06,234.80 L386.45,236.00 L389.89,237.20 L393.40,238.40 L396.96,239.59 L400.59,240.78 L404.28,241.97 L408.04,243.16 L411.86,244.34 L415.76,245.52 L419.72,246.70 L423.75,247.87 L427.86,249.04 L432.04,250.21 L436.30,251.38 L440.64,252.54 L445.06,253.70 L449.56,254.85 L454.15,256.00 L458.83,257.15 L463.59,258.29 L468.45,259.43 L473.40,260.57" stroke="#00008b" stroke-width="3.4"/>
<circle cx="147.72" cy="65.29" r="3.9" fill="#8b0000" stroke="none"/>
</g>
<path d="M67.4,351.59999999999997 V8.17" fill="none" stroke="#000" stroke-width="1.0" stroke-opacity="0.68"/>
<path d="M66.9,8.37 H469.7" fill="none" stroke="#000" stroke-width="1.0" stroke-opacity="0.75"/>
<path d="M66.9,350.9 H469.0 V7.67" fill="none" stroke="#000" stroke-width="1.5" stroke-opacity="0.55"/>
<path d="M67.40,350.9 v3.4 M147.72,350.9 v3.4 M228.04,350.9 v3.4 M308.36,350.9 v3.4 M388.68,350.9 v3.4 M469.00,350.9 v3.4 M67.4,350.90 h-3.6 M67.4,293.78 h-3.6 M67.4,236.66 h-3.6 M67.4,179.53 h-3.6 M67.4,122.41 h-3.6 M67.4,65.29 h-3.6 M67.4,8.17 h-3.6" stroke="#000" stroke-width="1.1" stroke-opacity="0.85" fill="none"/>
<text class="tk" x="67.40" y="374.9" text-anchor="middle">0</text>
<text class="tk" x="147.72" y="374.9" text-anchor="middle">1</text>
<text class="tk" x="228.04" y="374.9" text-anchor="middle">2</text>
<text class="tk" x="308.36" y="374.9" text-anchor="middle">3</text>
<text class="tk" x="388.68" y="374.9" text-anchor="middle">4</text>
<text class="tk" x="469.00" y="374.9" text-anchor="middle">5</text>
<text class="tk" x="61.6" y="359.40" text-anchor="end" letter-spacing="0.43">0.0</text>
<text class="tk" x="61.6" y="302.28" text-anchor="end" letter-spacing="0.43">0.2</text>
<text class="tk" x="61.6" y="245.16" text-anchor="end" letter-spacing="0.43">0.4</text>
<text class="tk" x="61.6" y="188.03" text-anchor="end" letter-spacing="0.43">0.6</text>
<text class="tk" x="61.6" y="130.91" text-anchor="end" letter-spacing="0.43">0.8</text>
<text class="tk" x="61.6" y="73.79" text-anchor="end" letter-spacing="0.43">1.0</text>
<text class="tk" x="61.6" y="16.67" text-anchor="end" letter-spacing="0.43">1.2</text>
<text class="tk it" x="268.3" y="400.2" text-anchor="middle" letter-spacing="0.4">w<tspan font-style="normal">/</tspan>w<tspan font-size="15.5px" dy="3.9">c</tspan></text>
<text class="tk it" transform="translate(16.9,180.2) rotate(-90)" text-anchor="middle">p<tspan font-style="normal">/</tspan>p<tspan font-size="15.5px" dy="4.2">c</tspan></text>
<text class="tk" transform="translate(93.1,147.6) rotate(-90)" text-anchor="middle" letter-spacing="0.35">Volume exclusion</text>
<text class="sm" style="font-size:12.4px" letter-spacing="-0.35" x="96.9" y="179.8">LC</text>
<text class="sm" transform="translate(115.6,340.9) rotate(-90)">MLC</text>
<text class="sm" x="171.2" y="293.9">COE</text>
<text class="sm" x="347.7" y="265.0">MLE</text>
<text class="sm" x="388.0" y="179.3">LE</text>
<text class="tk" x="255.7" y="236.4">S</text>
<text class="tk" x="308.1" y="202.4">C</text>
<rect x="480.4" y="109.8" width="203.9" height="139.5" rx="3.3" fill="#fff" fill-opacity="0.8" stroke="#cccccc" stroke-opacity="0.8" stroke-width="1"/>
<path d="M489.4,128.2 H534.3" stroke="#d3d3d3" stroke-width="2.85" fill="none"  stroke-linecap="square"/>
<text class="lg" x="552.6" y="136.4"><tspan class="it">θ</tspan>/<tspan class="it">θ</tspan><tspan class="it" font-size="15.5px" dy="4">c</tspan><tspan dy="-4" dx="6.1">=</tspan><tspan dx="5.1">0.85</tspan></text>
<path d="M488.9,161.5 H535.2" stroke="#a9a9a9" stroke-width="2.85" fill="none" stroke-dasharray="2.9 3.1" />
<text class="lg" x="552.6" y="169.7"><tspan class="it">θ</tspan>/<tspan class="it">θ</tspan><tspan class="it" font-size="15.5px" dy="4">c</tspan><tspan dy="-4" dx="6.1">=</tspan><tspan dx="5.1">0.9</tspan></text>
<path d="M488.9,194.6 H535.2" stroke="#808080" stroke-width="2.85" fill="none" stroke-dasharray="7.58 3.28" />
<text class="lg" x="552.6" y="202.8"><tspan class="it">θ</tspan>/<tspan class="it">θ</tspan><tspan class="it" font-size="15.5px" dy="4">c</tspan><tspan dy="-4" dx="6.1">=</tspan><tspan dx="5.1">0.95</tspan></text>
<path d="M488.9,227.6 H535.2" stroke="#696969" stroke-width="2.85" fill="none" stroke-dasharray="13.12 3.28 2.05 3.28" />
<text class="lg" x="552.6" y="235.8"><tspan class="it">θ</tspan>/<tspan class="it">θ</tspan><tspan class="it" font-size="15.5px" dy="4">c</tspan><tspan dy="-4" dx="6.1">=</tspan><tspan dx="5.1">1.0</tspan></text>
</svg></body></html>
